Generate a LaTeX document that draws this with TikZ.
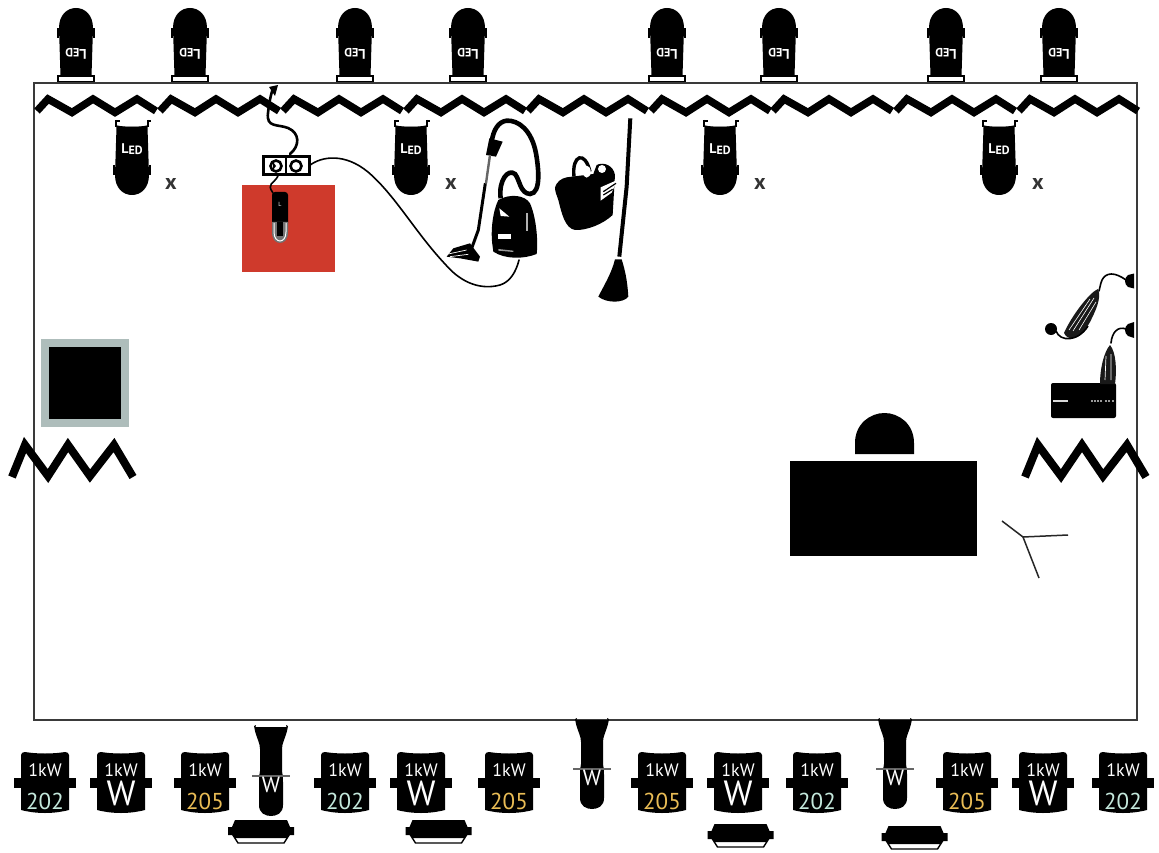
\documentclass[tikz,border=0pt]{standalone}
\usepackage{fontspec}
\setmainfont{PT Sans}
\definecolor{frameline}{HTML}{3A3A3A}
\definecolor{gelred}{HTML}{CF3A2C}
\definecolor{winframe}{HTML}{AEBDBB}
\definecolor{numteal}{HTML}{C4E8DC}
\definecolor{numamber}{HTML}{E9BC55}
\newcommand{\fs}[1]{\fontsize{#1}{#1}\selectfont}
\tikzset{
  zig/.style={line width=7.5pt,line join=miter,black},
  bigzig/.style={line width=8pt,line join=miter,black},
  lbl/.style={inner sep=0pt,outer sep=0pt,text=white},
  cable/.style={black,line width=1.6pt,line cap=round},
  thickcable/.style={black,line width=2.6pt,line cap=round},
  kwbody/.pic={
    \fill[black] (-24,3) .. controls (-24,1) and (-22,0) .. (-20,0)
      .. controls (-8,2) and (8,2) .. (20,0) .. controls (22,0) and (24,1) .. (24,3)
      -- (24,58) .. controls (8,62) and (-8,62) .. (-24,58) -- cycle;
    \fill[black] (-31,26) rectangle (31,36);
  },
  pics/lantern/.style={code={
    % origin: top of body at centre; body runs to the dome at y=68
    \fill[black] (-15.5,0) -- (15.5,0) -- (17,48) .. controls (17,61) and (9,68) .. (0,68)
       .. controls (-9,68) and (-17,61) .. (-17,48) -- cycle;
    \draw[black,line width=1.8pt] (-18,38) -- (-18,48) (18,38) -- (18,48);
    \node[lbl,transform shape] (-t) at (0,22) {\bfseries\fs{14}L\raisebox{-1.5pt}{\fs{12}ED}};
  }},
  pics/hangclips/.style={code={
    \draw[black,line width=1.5pt] (-16,-7) -- (-16,0) (16,-7) -- (16,0);
    \draw[black,line width=1.5pt] (-16,-1) .. controls (-8,1) and (8,1) .. (16,-1);
    \draw[black,line width=1.3pt] (15,-6) -- (19,-6) (-15,-6) -- (-12,-6);
  }},
  pics/kwnum/.style n args={2}{code={
    \pic {kwbody};
    \node[lbl] (-a) at (0,18) {\fs{18}1kW};
    \node[lbl,text=#2] (-b) at (0,49.5) {\fs{23}#1};
  }},
  pics/kwwatt/.style={code={
    \pic {kwbody};
    \node[lbl] (-a) at (0,18) {\fs{18}1kW};
    \node[lbl] (-b) at (0,41) {\fs{35}W};
  }},
  pics/profile/.style={code={
    \fill[black] (-15,0) -- (-15.5,2) -- (15.5,2) -- (15,0) -- (17,1) -- (16,6)
      .. controls (14,14) and (11,18) .. (11,24) -- (11,46)
      .. controls (12,50) and (12,52) .. (12,60) -- (12,80)
      .. controls (12,88) and (6,91) .. (0,91) .. controls (-6,91) and (-12,88) .. (-12,80)
      -- (-12,60) .. controls (-12,52) and (-12,50) .. (-11,46) -- (-11,24)
      .. controls (-11,18) and (-14,14) .. (-16,6) -- (-17,1) -- cycle;
    \draw[black!60,line width=1.2pt] (-19,51) -- (19,51);
    \node[lbl] (-w) at (0,60) {\fs{22}W};
  }},
  pics/flood/.style={code={
    \draw[black,line width=1.4pt,fill=white] (-30,12) -- (-23,23) -- (23,23) -- (30,12) -- cycle;
    \fill[black] (-26,0) -- (26,0) -- (29,7) -- (33,7) -- (33,15) -- (28,15) -- (26,18)
      -- (-26,18) -- (-28,15) -- (-33,15) -- (-33,7) -- (-29,7) -- cycle;
  }}
}
\begin{document}
\begin{tikzpicture}[x=1pt,y=-1pt]
\useasboundingbox (0,0) rectangle (1159,853);
\fill[white] (0,0) rectangle (1159,853);

% top row lanterns (upside down), bases on the frame
\foreach \i/\x in {1/76,2/190,3/355,4/468,5/667,6/779,7/946,8/1059}{
  \draw[black,line width=1.4pt,fill=white] (\x-18,76) rectangle (\x+18,82);
  \pic[rotate=180] (top\i) at (\x,76) {lantern};
}

% frame
\node[draw=frameline,line width=2pt,minimum width=1103.5pt,minimum height=637pt,inner sep=0pt,outer sep=0pt,anchor=north west] (frame) at (33.5,83) {};

% top zigzag
\foreach \s in {34,157,280,403,525,648,770,893,1016}{
  \draw[zig] (\s+3,111) -- (\s+14,99) -- (\s+38,112.5) -- (\s+59,99) -- (\s+81,112.5) -- (\s+103,99) -- (\s+122,111);
}

% hanging lanterns
\foreach \i/\x/\mx in {1/132/171,2/411/451,3/720/760,4/999/1038}{
  \pic (hang\i) at (\x,127) {lantern};
  \pic at (\x,127) {hangclips};
  \node[inner sep=0pt,text=black!80] (cross\i) at (\mx,184.5) {\bfseries\fs{22}x};
}

% red gel and lamp
\node[fill=gelred,minimum width=93pt,minimum height=87pt,inner sep=0pt,outer sep=0pt,anchor=north west] (gel) at (242,185) {};
\node[draw=black,line width=3.4pt,fill=white,minimum width=46pt,minimum height=18pt,inner sep=0pt,outer sep=0pt] (socket) at (286.5,165.5) {};
\draw[black,line width=2.6pt] (276,166) circle (5.5pt) (296,166) circle (5.5pt);
\fill[black] (273,162) -- (276,166) -- (273,170) -- cycle;
\fill[black] (285.2,158) rectangle (286.8,173);
\fill[black,rounded corners=3pt] (272,192) rectangle (288,226);
\fill[black!55!white] (272,222) -- (288,222) -- (288,232) .. controls (288,240) and (284,243) .. (280,243)
  .. controls (276,243) and (272,240) .. (272,232) -- cycle;
\draw[white,line width=1pt] (274,223) -- (274,232) .. controls (274,238) and (277,241) .. (280,241)
  .. controls (283,241) and (286,238) .. (286,232) -- (286,223);
\fill[black] (277,222) rectangle (283,236);
\node[inner sep=0pt,text=white] (flashlabel) at (280,204) {\fs{6}L};
\coordinate (lampin) at (273,193);
\coordinate (socketout) at (278,176);
\draw[cable] (socketout) .. controls (274,184) and (266,183) .. (lampin);

% plug and cable to socket
\coordinate (plug) at (273,88);
\fill[black] (269,87) -- (278,85) -- (275,96) -- cycle;
\draw[thickcable] (plug) .. controls (270,98) and (269,104) .. (268,113)
  .. controls (266,128) and (278,124) .. (288,128) .. controls (300,133) and (300,146) .. (290,154);
% vacuum cord
\coordinate (vacin) at (519,260);
\draw[cable] (socket.east) .. controls (322,156) and (345,153) .. (368,172)
  .. controls (395,195) and (415,232) .. (445,264)
  .. controls (462,284) and (482,290) .. (500,285) .. controls (510,282) and (516,272) .. (vacin);

% vacuum, bucket, broom
\begin{scope}[shift={(430,100)},x=0.3333pt,y=-0.3333pt]
  \draw[black,line width=4.6pt] (212,295) .. controls (205,240) and (235,205) .. (255,222)
    .. controls (270,240) and (270,280) .. (300,282)
    .. controls (335,280) and (325,200) .. (318,160)
    .. controls (305,90) and (265,60) .. (230,62)
    .. controls (205,65) and (190,90) .. (185,125);
  \fill[black] (178,115) -- (218,125) -- (198,170) -- (168,165) -- cycle;
  \draw[black!60,line width=2.4pt] (180,165) -- (168,250);
  \draw[black,line width=3pt] (166,250) -- (145,390) -- (125,445);
  \fill[black] (120,430) -- (150,470) -- (145,485) -- (90,475) -- (50,470) -- (70,445) -- cycle;
  \draw[white,line width=0.7pt] (55,462) -- (110,450) (60,470) -- (115,463);
  \fill[black] (188,440) .. controls (180,390) and (190,330) .. (205,300)
    .. controls (240,280) and (285,285) .. (300,310) .. controls (318,350) and (325,420) .. (320,462)
    .. controls (280,478) and (225,478) .. (190,455) -- cycle;
  \fill[white] (208,325) -- (238,350) -- (212,348) -- cycle;
  \fill[white] (205,403) rectangle (242,418);
  \fill[white!70!black] (288,340) rectangle (295,392);
  \fill[white!60!black] (205,447) -- (250,452) -- (250,456) -- (205,452) -- cycle;
  % bucket
  \draw[black,line width=3.4pt] (432,230) .. controls (425,165) and (465,150) .. (480,215);
  \fill[black] (375,262) .. controls (380,245) and (395,235) .. (410,232) -- (490,222) -- (500,195)
    .. controls (520,185) and (550,195) .. (555,225) -- (548,345)
    .. controls (520,372) and (470,392) .. (435,390) .. controls (405,385) and (395,340) .. (385,300)
    .. controls (380,285) and (375,275) .. (375,262) -- cycle;
  \fill[white] (512,262) -- (562,240) -- (545,278) -- (512,302) -- cycle;
  \draw[black,line width=1.2pt] (520,275) -- (558,250) (520,285) -- (548,268);
  \fill[white] (452,212) circle (4pt) (470,215) ellipse (4pt and 6pt);
  \fill[white] (516,207) circle (4pt);
  % broom
  \draw[black,line width=4pt] (601,55) -- (590,260) -- (568,470);
  \fill[black] (555,478) -- (575,478) .. controls (585,510) and (592,540) .. (595,590)
    .. controls (580,610) and (530,610) .. (505,590) .. controls (520,560) and (545,520) .. (555,478) -- cycle;
\end{scope}

% window
\node[draw=winframe,line width=8pt,fill=black,minimum width=80pt,minimum height=80pt,inner sep=0pt,outer sep=0pt] (window) at (85,383) {};

% side zigzags
\draw[bigzig] (12,477) -- (25,445) -- (48,476) -- (68,445) -- (90,476) -- (114,445) -- (133,477);
\draw[bigzig] (1025,477) -- (1038,445) -- (1061,476) -- (1082,445) -- (1103,476) -- (1127,445) -- (1146,477);

% desk and chair
\node[fill=black,minimum width=187pt,minimum height=95pt,inner sep=0pt,outer sep=0pt,anchor=north west] (desk) at (790,461) {};
\fill[black] (855,454) -- (855,443) .. controls (855,424) and (870,413) .. (884.5,413)
  .. controls (899,413) and (914,424) .. (914,443) -- (914,454) -- cycle;
\coordinate (ymid) at (1023,537);
\coordinate (ya) at (1002,521);
\coordinate (yb) at (1068,535);
\coordinate (yc) at (1039,578);
\draw[black!85,line width=1.5pt] (ya) -- (ymid) -- (yb) (ymid) -- (yc);

% right wall devices
\fill[black] (1134,273.5) -- (1128,275) .. controls (1124,278) and (1124,284) .. (1128,287) -- (1134,288.5) -- cycle;
\fill[black] (1134,322) -- (1128,324) .. controls (1124,327) and (1124,333) .. (1128,336) -- (1134,338) -- cycle;
\fill[black] (1051,329) circle (6pt);
\draw[cable] (1126,280) .. controls (1115,272) and (1106,272) .. (1102,280) .. controls (1100,285) and (1100,288) .. (1099,291);
\fill[black!90] (1098,289) .. controls (1090,292) and (1072,315) .. (1064,333)
  .. controls (1068,342) and (1080,340) .. (1090,322) .. controls (1095,312) and (1102,298) .. (1098,289) -- cycle;
\draw[white,line width=0.6pt] (1090,299) -- (1069,330) (1094,298) -- (1073,331) (1096,302) -- (1079,330);
\draw[black,line width=1.6pt] (1056,331) .. controls (1060,342) and (1078,342) .. (1088,326);
\node[fill=black,rounded corners=2pt,minimum width=65pt,minimum height=35pt,inner sep=0pt,outer sep=0pt,anchor=north west] (box) at (1051,383) {};
\fill[white!85!black] (1053,400) rectangle (1068,402);
\foreach \d in {1091,1094,1097,1100,1105,1108,1112}{\fill[white!60!black] (\d,399.5) rectangle ++(1.6,2.4);}
\draw[cable] (1126,329) .. controls (1118,326) and (1112,332) .. (1111,343);
\fill[black!90] (1110,345) .. controls (1104,352) and (1100,368) .. (1100,384) -- (1115,384)
  .. controls (1117,370) and (1116,352) .. (1110,345) -- cycle;
\draw[white,line width=0.7pt] (1106,356) -- (1105,380) (1111,354) -- (1111,380);

% bottom lamps
\pic (k1) at (45,752) {kwnum={202}{numteal}};
\pic (k2) at (121,752) {kwwatt};
\pic (k3) at (205,752) {kwnum={205}{numamber}};
\pic (k4) at (345,752) {kwnum={202}{numteal}};
\pic (k5) at (421,752) {kwwatt};
\pic (k6) at (509,752) {kwnum={205}{numamber}};
\pic (k7) at (662,752) {kwnum={205}{numamber}};
\pic (k8) at (738,752) {kwwatt};
\pic (k9) at (817,752) {kwnum={202}{numteal}};
\pic (k10) at (967,752) {kwnum={205}{numamber}};
\pic (k11) at (1043,752) {kwwatt};
\pic (k12) at (1123,752) {kwnum={202}{numteal}};
\pic (p1) at (271,725) {profile};
\pic (p2) at (592,718) {profile};
\pic (p3) at (895,718) {profile};
\pic (f1) at (261,820) {flood};
\pic (f2) at (438.5,820) {flood};
\pic (f3) at (740.5,824) {flood};
\pic (f4) at (914.5,826) {flood};
\end{tikzpicture}
\end{document}
